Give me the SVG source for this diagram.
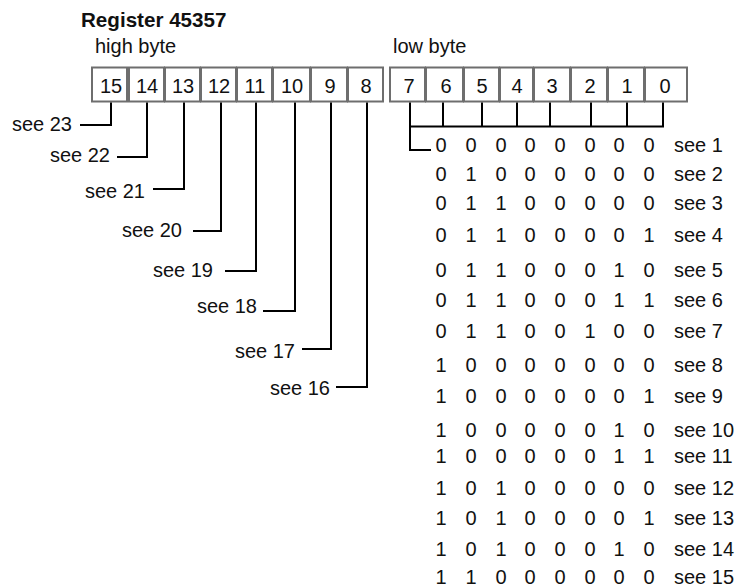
<svg xmlns="http://www.w3.org/2000/svg" width="742" height="588" viewBox="0 0 742 588">
<style>
text{font-family:"Liberation Sans",Arial,Helvetica,sans-serif;font-size:20px;fill:#111}
.t{font-weight:bold;font-size:20.6px}
.c rect{fill:#fff;stroke:#6e6e6e;stroke-width:2}
.c text{text-anchor:middle}
.m{text-anchor:middle}
.e{text-anchor:end}
.l{fill:none;stroke:#000;stroke-width:2}
</style>
<rect width="742" height="588" fill="#fff"/>
<text class="t" x="81" y="27">Register 45357</text>
<text x="95" y="53">high byte</text>
<text x="393" y="53">low byte</text>
<g id="high-byte" class="c">
<g id="bit15"><rect x="92" y="67.5" width="35" height="34"/><text x="111" y="93">15</text></g>
<g id="bit14"><rect x="129" y="67.5" width="35" height="34"/><text x="147" y="93">14</text></g>
<g id="bit13"><rect x="165" y="67.5" width="35" height="34"/><text x="183" y="93">13</text></g>
<g id="bit12"><rect x="201" y="67.5" width="35" height="34"/><text x="219" y="93">12</text></g>
<g id="bit11"><rect x="237" y="67.5" width="35" height="34"/><text x="255" y="93">11</text></g>
<g id="bit10"><rect x="273" y="67.5" width="37" height="34"/><text x="292" y="93">10</text></g>
<g id="bit9"><rect x="311" y="67.5" width="36" height="34"/><text x="330" y="93">9</text></g>
<g id="bit8"><rect x="348" y="67.5" width="35" height="34"/><text x="366" y="93">8</text></g>
</g>
<g id="low-byte" class="c">
<g id="bit7"><rect x="390" y="67.5" width="35" height="34"/><text x="409" y="93">7</text></g>
<g id="bit6"><rect x="426" y="67.5" width="37" height="34"/><text x="446" y="93">6</text></g>
<g id="bit5"><rect x="464" y="67.5" width="35" height="34"/><text x="482" y="93">5</text></g>
<g id="bit4"><rect x="500" y="67.5" width="33" height="34"/><text x="517" y="93">4</text></g>
<g id="bit3"><rect x="534" y="67.5" width="36" height="34"/><text x="552" y="93">3</text></g>
<g id="bit2"><rect x="571" y="67.5" width="36" height="34"/><text x="590" y="93">2</text></g>
<g id="bit1"><rect x="608" y="67.5" width="36" height="34"/><text x="627" y="93">1</text></g>
<g id="bit0"><rect x="645" y="67.5" width="42" height="34"/><text x="665" y="93">0</text></g>
</g>
<g id="connectors" class="l">
<path d="M111 102.5V125H80"/>
<path d="M147 102.5V157H117"/>
<path d="M184 102.5V189H153"/>
<path d="M221 102.5V231H193"/>
<path d="M256 102.5V271H225"/>
<path d="M295 102.5V311H263"/>
<path d="M331 102.5V349H302"/>
<path d="M367 102.5V387H336"/>
<path d="M410 102.5V150H431"/>
<path d="M443 102.5V127M482 102.5V127M517 102.5V127M550 102.5V127M591 102.5V127M627 102.5V127M663 102.5V127M409 126.5H664"/>
</g>
<g id="high-labels" class="e">
<text x="72" y="131">see 23</text>
<text x="110" y="162">see 22</text>
<text x="145" y="198">see 21</text>
<text x="182" y="237">see 20</text>
<text x="213" y="277">see 19</text>
<text x="257" y="313">see 18</text>
<text x="295" y="358">see 17</text>
<text x="330" y="395">see 16</text>
</g>
<g id="low-table">
<g class="m">
<text y="151.5"><tspan x="441">0</tspan><tspan x="471">0</tspan><tspan x="501">0</tspan><tspan x="530">0</tspan><tspan x="560">0</tspan><tspan x="590">0</tspan><tspan x="619">0</tspan><tspan x="649">0</tspan></text>
<text y="181"><tspan x="441">0</tspan><tspan x="471">1</tspan><tspan x="501">0</tspan><tspan x="530">0</tspan><tspan x="560">0</tspan><tspan x="590">0</tspan><tspan x="619">0</tspan><tspan x="649">0</tspan></text>
<text y="210"><tspan x="441">0</tspan><tspan x="471">1</tspan><tspan x="501">1</tspan><tspan x="530">0</tspan><tspan x="560">0</tspan><tspan x="590">0</tspan><tspan x="619">0</tspan><tspan x="649">0</tspan></text>
<text y="241.5"><tspan x="441">0</tspan><tspan x="471">1</tspan><tspan x="501">1</tspan><tspan x="530">0</tspan><tspan x="560">0</tspan><tspan x="590">0</tspan><tspan x="619">0</tspan><tspan x="649">1</tspan></text>
<text y="276.5"><tspan x="441">0</tspan><tspan x="471">1</tspan><tspan x="501">1</tspan><tspan x="530">0</tspan><tspan x="560">0</tspan><tspan x="590">0</tspan><tspan x="619">1</tspan><tspan x="649">0</tspan></text>
<text y="306.5"><tspan x="441">0</tspan><tspan x="471">1</tspan><tspan x="501">1</tspan><tspan x="530">0</tspan><tspan x="560">0</tspan><tspan x="590">0</tspan><tspan x="619">1</tspan><tspan x="649">1</tspan></text>
<text y="338"><tspan x="441">0</tspan><tspan x="471">1</tspan><tspan x="501">1</tspan><tspan x="530">0</tspan><tspan x="560">0</tspan><tspan x="590">1</tspan><tspan x="619">0</tspan><tspan x="649">0</tspan></text>
<text y="371.5"><tspan x="441">1</tspan><tspan x="471">0</tspan><tspan x="501">0</tspan><tspan x="530">0</tspan><tspan x="560">0</tspan><tspan x="590">0</tspan><tspan x="619">0</tspan><tspan x="649">0</tspan></text>
<text y="403"><tspan x="441">1</tspan><tspan x="471">0</tspan><tspan x="501">0</tspan><tspan x="530">0</tspan><tspan x="560">0</tspan><tspan x="590">0</tspan><tspan x="619">0</tspan><tspan x="649">1</tspan></text>
<text y="436.5"><tspan x="441">1</tspan><tspan x="471">0</tspan><tspan x="501">0</tspan><tspan x="530">0</tspan><tspan x="560">0</tspan><tspan x="590">0</tspan><tspan x="619">1</tspan><tspan x="649">0</tspan></text>
<text y="463"><tspan x="441">1</tspan><tspan x="471">0</tspan><tspan x="501">0</tspan><tspan x="530">0</tspan><tspan x="560">0</tspan><tspan x="590">0</tspan><tspan x="619">1</tspan><tspan x="649">1</tspan></text>
<text y="495"><tspan x="441">1</tspan><tspan x="471">0</tspan><tspan x="501">1</tspan><tspan x="530">0</tspan><tspan x="560">0</tspan><tspan x="590">0</tspan><tspan x="619">0</tspan><tspan x="649">0</tspan></text>
<text y="525"><tspan x="441">1</tspan><tspan x="471">0</tspan><tspan x="501">1</tspan><tspan x="530">0</tspan><tspan x="560">0</tspan><tspan x="590">0</tspan><tspan x="619">0</tspan><tspan x="649">1</tspan></text>
<text y="556"><tspan x="441">1</tspan><tspan x="471">0</tspan><tspan x="501">1</tspan><tspan x="530">0</tspan><tspan x="560">0</tspan><tspan x="590">0</tspan><tspan x="619">1</tspan><tspan x="649">0</tspan></text>
<text y="583.5"><tspan x="441">1</tspan><tspan x="471">1</tspan><tspan x="501">0</tspan><tspan x="530">0</tspan><tspan x="560">0</tspan><tspan x="590">0</tspan><tspan x="619">0</tspan><tspan x="649">0</tspan></text>
</g>
<text x="674" y="151.5">see 1</text>
<text x="674" y="181">see 2</text>
<text x="674" y="210">see 3</text>
<text x="674" y="241.5">see 4</text>
<text x="674" y="276.5">see 5</text>
<text x="674" y="306.5">see 6</text>
<text x="674" y="338">see 7</text>
<text x="674" y="371.5">see 8</text>
<text x="674" y="403">see 9</text>
<text x="674" y="436.5">see 10</text>
<text x="674" y="463">see 11</text>
<text x="674" y="495">see 12</text>
<text x="674" y="525">see 13</text>
<text x="674" y="556">see 14</text>
<text x="674" y="583.5">see 15</text>
</g>
</svg>
